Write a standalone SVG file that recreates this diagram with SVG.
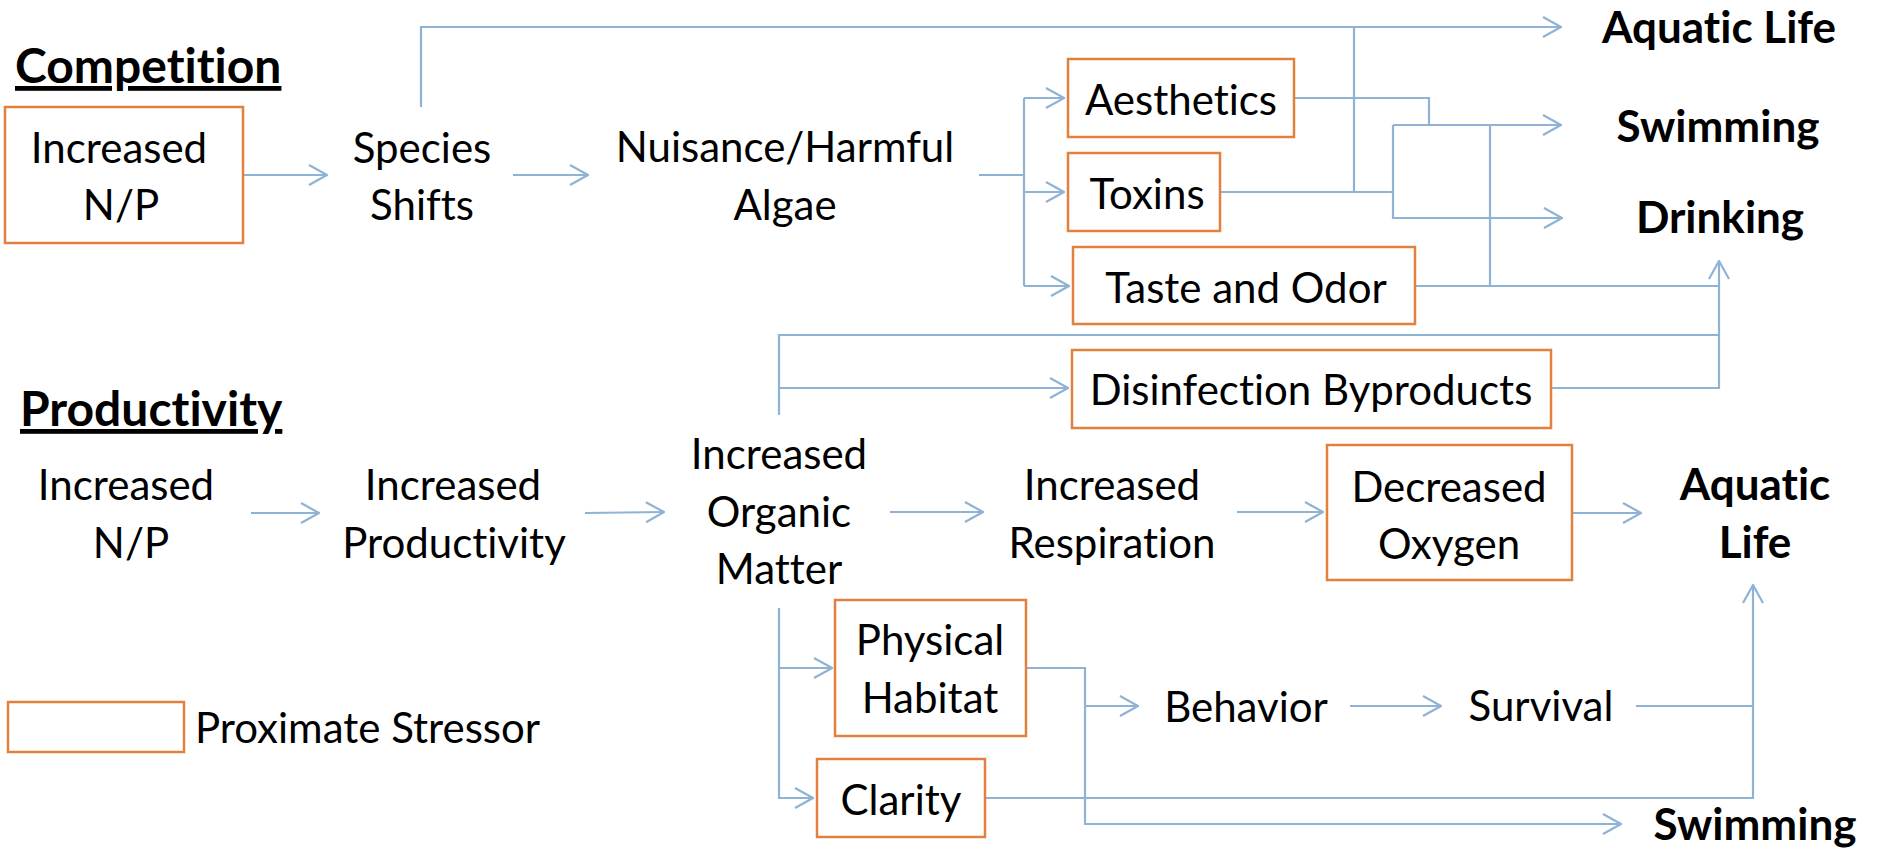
<svg xmlns="http://www.w3.org/2000/svg" width="1879" height="849" viewBox="0 0 1879 849">
<defs>
<marker id="arr" markerUnits="userSpaceOnUse" viewBox="0 0 20 22" refX="19" refY="11" markerWidth="20" markerHeight="22" orient="auto">
<path d="M1,1 L19,11 L1,21" fill="none" stroke="#8FB3D4" stroke-width="2.2"/>
</marker>
<style>
text{font-variant-ligatures:none;font-family:Lato,"Open Sans","Liberation Sans",sans-serif;fill:#000}
.t{font-size:42px;text-anchor:middle}
.b{font-size:44px;font-weight:bold;text-anchor:middle}
.h{font-size:48px;font-weight:bold;text-decoration:underline}
.box{fill:#fff;stroke:#E2803F;stroke-width:2.5}
.c{fill:none;stroke:#8FB3D4;stroke-width:2.2}
.a{fill:none;stroke:#8FB3D4;stroke-width:2.2;marker-end:url(#arr)}
</style>
</defs>
<rect width="1879" height="849" fill="#fff"/>

<g id="connectors">
<path class="a" d="M243,175 H327"/>
<path class="a" d="M513,175 H588"/>
<path class="a" d="M421,107 V27 H1561"/>
<path class="c" d="M979,175 H1024 M1024,98 V286"/>
<path class="a" d="M1024,98 H1064"/>
<path class="a" d="M1024,192 H1064"/>
<path class="a" d="M1024,286 H1069"/>
<path class="c" d="M1294,98 H1429 V125"/>
<path class="c" d="M1220,192 H1393 M1354,192 V27"/>
<path class="a" d="M1393,125 V218 H1562"/>
<path class="a" d="M1393,125 H1561"/>
<path class="c" d="M1415,286 H1719 M1490,286 V125"/>
<path class="c" d="M779,415 V335 H1719"/>
<path class="a" d="M779,388 H1068"/>
<path class="a" d="M1551,388 H1719 V261"/>
<path class="a" d="M251,513 H319"/>
<path class="a" d="M585,513 L664,512"/>
<path class="a" d="M890,512 L983,512"/>
<path class="a" d="M1237,512 H1323"/>
<path class="a" d="M1572,513 H1641"/>
<path class="a" d="M779,608 V798 H813"/>
<path class="a" d="M779,668 H832"/>
<path class="a" d="M1026,668 H1085 V824 H1621"/>
<path class="a" d="M1085,706 H1138"/>
<path class="a" d="M1350,706 H1441"/>
<path class="c" d="M1636,706 H1753"/>
<path class="a" d="M985,798 H1753 V585"/>
</g>

<g id="title-competition"><text class="h" x="15" y="83">Competition</text></g>
<g id="title-productivity"><text class="h" x="20" y="426">Productivity</text></g>

<g id="c-np"><rect class="box" x="5" y="107" width="238" height="136"/><text class="t" x="119" y="163">Increased</text><text class="t" x="121" y="220">N/P</text></g>
<g id="c-species"><text class="t" x="422" y="163">Species</text><text class="t" x="422" y="220">Shifts</text></g>
<g id="c-algae"><text class="t" x="785" y="162">Nuisance/Harmful</text><text class="t" x="785" y="220">Algae</text></g>
<g id="aesthetics"><rect class="box" x="1068" y="59" width="226" height="78"/><text class="t" x="1181" y="115">Aesthetics</text></g>
<g id="toxins"><rect class="box" x="1068" y="153" width="152" height="78"/><text class="t" x="1147" y="209">Toxins</text></g>
<g id="taste"><rect class="box" x="1073" y="247" width="342" height="77"/><text class="t" x="1246" y="303">Taste and Odor</text></g>
<g id="c-aquatic"><text class="b" x="1719" y="43">Aquatic Life</text></g>
<g id="c-swimming"><text class="b" x="1718" y="142">Swimming</text></g>
<g id="c-drinking"><text class="b" x="1720" y="233">Drinking</text></g>

<g id="p-np"><text class="t" x="126" y="500">Increased</text><text class="t" x="131" y="558">N/P</text></g>
<g id="p-productivity"><text class="t" x="453" y="500">Increased</text><text class="t" x="454" y="558">Productivity</text></g>
<g id="p-organic"><text class="t" x="779" y="469">Increased</text><text class="t" x="779" y="527">Organic</text><text class="t" x="779" y="584">Matter</text></g>
<g id="dbp"><rect class="box" x="1072" y="350" width="479" height="78"/><text class="t" x="1311" y="405">Disinfection Byproducts</text></g>
<g id="p-respiration"><text class="t" x="1112" y="500">Increased</text><text class="t" x="1112" y="558">Respiration</text></g>
<g id="oxygen"><rect class="box" x="1327" y="445" width="245" height="135"/><text class="t" x="1449" y="502">Decreased</text><text class="t" x="1449" y="559">Oxygen</text></g>
<g id="p-aquatic"><text class="b" x="1755" y="500">Aquatic</text><text class="b" x="1755" y="558">Life</text></g>
<g id="habitat"><rect class="box" x="835" y="600" width="191" height="136"/><text class="t" x="930" y="655">Physical</text><text class="t" x="930" y="713">Habitat</text></g>
<g id="clarity"><rect class="box" x="817" y="759" width="168" height="78"/><text class="t" x="901" y="815">Clarity</text></g>
<g id="behavior"><text class="t" x="1246" y="722">Behavior</text></g>
<g id="survival"><text class="t" x="1541" y="721">Survival</text></g>
<g id="p-swimming"><text class="b" x="1755" y="840">Swimming</text></g>

<g id="legend"><rect class="box" x="8" y="702" width="176" height="50"/><text class="t" x="195" y="743" style="text-anchor:start">Proximate Stressor</text></g>
</svg>
